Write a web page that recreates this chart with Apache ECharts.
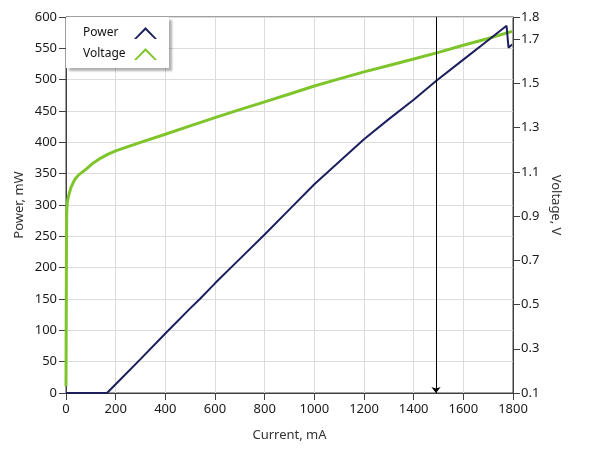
<!DOCTYPE html>
<html>
<head>
<meta charset="utf-8">
<script src="https://cdn.jsdelivr.net/npm/echarts@6/dist/echarts.min.js"></script>
<style>
html,body{margin:0;padding:0;background:#fff;}
#c{width:589px;height:456px;}
</style>
</head>
<body>
<div id="c"></div>
<script>
// Power curve (current mA -> power mW)
const powerCurrent = [0, 165, 200, 300, 400, 500, 539, 600, 700, 800, 900, 1000, 1100, 1200, 1300, 1400, 1490, 1600, 1700, 1774, 1782, 1790, 1796];
const powerValues  = [0, 0, 14, 54, 95, 135, 150, 175, 214, 253, 293, 333, 369, 405, 437, 468, 498, 532, 563, 586, 551, 553, 556];

// Voltage curve (current mA -> voltage V)
const voltageCurrent = [0, 1, 2, 3, 5, 10, 20, 35, 50, 80, 110, 140, 170, 200, 250, 300, 400, 500, 600, 700, 800, 900, 1000, 1100, 1200, 1300, 1400, 1500, 1600, 1700, 1796];
const voltageValues  = [0.13, 0.5, 0.8, 0.92, 0.96, 0.99, 1.03, 1.065, 1.085, 1.111, 1.14, 1.162, 1.18, 1.195, 1.214, 1.233, 1.27, 1.308, 1.345, 1.381, 1.416, 1.452, 1.488, 1.52, 1.552, 1.581, 1.61, 1.64, 1.672, 1.703, 1.735];

const xTicks = [0, 200, 400, 600, 800, 1000, 1200, 1400, 1600, 1800];
const powerTicks = [0, 50, 100, 150, 200, 250, 300, 350, 400, 450, 500, 550, 600];
const voltageTicks = [0.1, 0.3, 0.5, 0.7, 0.9, 1.1, 1.3, 1.5, 1.7, 1.8];
const cursorCurrent = 1490;

const powerData = powerCurrent.map((c, i) => [c, powerValues[i]]);
const voltageData = voltageCurrent.map((c, i) => [c, voltageValues[i]]);

const FONT = 'Noto Sans';
const chart = echarts.init(document.getElementById('c'), null, {renderer: 'canvas'});
chart.setOption({
  animation: false,
  backgroundColor: '#fff',
  textStyle: {fontFamily: FONT},
  grid: {left: 66, right: 76, top: 17, bottom: 63, show: true, borderColor: '#404040', borderWidth: 1, backgroundColor: 'transparent'},
  legend: {
    left: 66, top: 17,
    orient: 'vertical',
    align: 'right',
    padding: [10, 12, 8, 17],
    itemGap: 9,
    itemWidth: 23, itemHeight: 12,
    backgroundColor: '#fff',
    borderWidth: 0,
    shadowColor: 'rgba(0,0,0,0.3)', shadowBlur: 2, shadowOffsetX: 3, shadowOffsetY: 3,
    icon: 'path://M0,12 L11.5,0 L23,12 L20.6,12 L11.5,3 L2.4,12 Z',
    formatter: name => '{t|' + name + '}',
    textStyle: {fontFamily: FONT, fontSize: 12, color: '#111',
      rich: {t: {width: 46, align: 'left', fontFamily: FONT, fontSize: 12, color: '#111'}}},
    data: ['Power', 'Voltage']
  },
  xAxis: {
    type: 'value', min: 0, max: 1800, interval: 200,
    name: 'Current, mA', nameLocation: 'middle', nameGap: 36, nameMoveOverlap: false,
    nameTextStyle: {fontFamily: FONT, fontSize: 13, color: '#333'},
    axisLine: {show: true, lineStyle: {color: '#404040'}},
    axisTick: {show: true, length: 7, lineStyle: {color: '#404040'}, customValues: xTicks},
    axisLabel: {fontFamily: FONT, fontSize: 13, color: '#1a1a1a', margin: 10, customValues: xTicks,
      formatter: v => String(v)},
    splitLine: {show: true, lineStyle: {color: '#dcdcdc', width: 1}}
  },
  yAxis: [{
    type: 'value', min: 0, max: 600, interval: 50, position: 'left',
    name: 'Power, mW', nameLocation: 'middle', nameGap: 40, nameMoveOverlap: false,
    nameTextStyle: {fontFamily: FONT, fontSize: 13, color: '#333'},
    axisLine: {show: true, lineStyle: {color: '#404040'}},
    axisTick: {show: true, length: 7, lineStyle: {color: '#404040'}, customValues: powerTicks},
    axisLabel: {fontFamily: FONT, fontSize: 13, color: '#1a1a1a', margin: 9, customValues: powerTicks,
      formatter: v => String(v)},
    splitLine: {show: true, lineStyle: {color: '#dcdcdc', width: 1}}
  }, {
    type: 'value', min: 0.1, max: 1.8, position: 'right',
    name: 'Voltage, V', nameLocation: 'middle', nameGap: 36, nameRotate: -90, nameMoveOverlap: false,
    nameTextStyle: {fontFamily: FONT, fontSize: 13, color: '#333'},
    axisLine: {show: true, lineStyle: {color: '#404040'}},
    axisTick: {show: true, length: 7, lineStyle: {color: '#404040'}, customValues: voltageTicks},
    axisLabel: {fontFamily: FONT, fontSize: 13, color: '#1a1a1a', margin: 8, customValues: voltageTicks,
      formatter: v => (Math.round(v * 10) / 10).toFixed(1)},
    splitLine: {show: false}
  }],
  series: [{
    name: 'Power', type: 'line', yAxisIndex: 0, data: powerData,
    showSymbol: false, symbol: 'none',
    lineStyle: {color: '#1c1e5e', width: 2},
    itemStyle: {color: '#1c1e5e'},
    z: 3,
    markLine: {
      silent: true,
      symbol: ['none', 'arrow'], symbolSize: [7, 6],
      label: {show: false},
      lineStyle: {color: '#000', width: 1, type: 'solid'},
      data: [[{coord: [cursorCurrent, 600]}, {coord: [cursorCurrent, 0]}]]
    }
  }, {
    name: 'Voltage', type: 'line', yAxisIndex: 1, data: voltageData,
    showSymbol: false, symbol: 'none',
    lineStyle: {color: '#7dc52a', width: 3},
    itemStyle: {color: '#7dc52a'},
    z: 2
  }]
});
</script>
</body>
</html>
